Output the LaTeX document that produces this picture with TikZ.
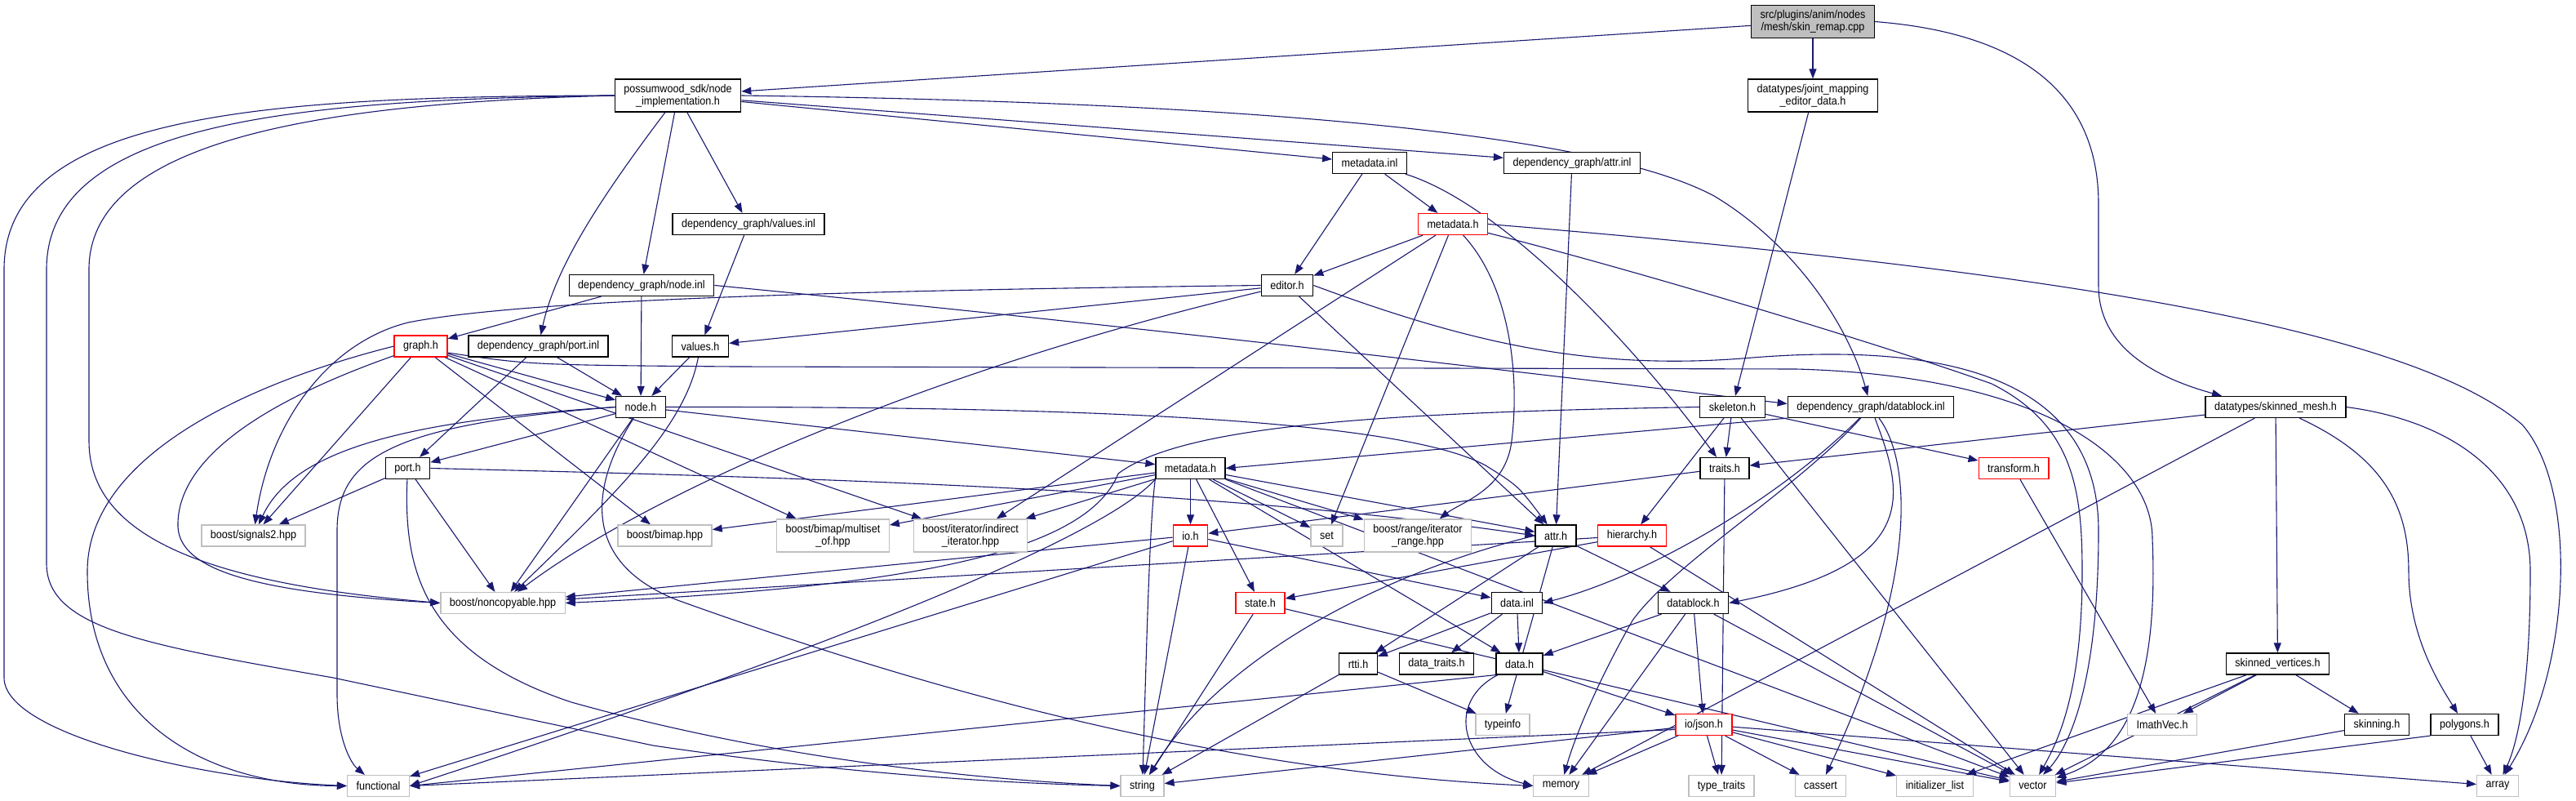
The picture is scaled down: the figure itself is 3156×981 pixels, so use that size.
\documentclass[tikz,border=0pt]{standalone}
\usepackage{fontspec}
\setmainfont{Liberation Sans}[FakeStretch=0.9]
\usetikzlibrary{arrows.meta}
\definecolor{navy}{RGB}{25,25,112}
\definecolor{lgray}{RGB}{191,191,191}
\pgfdeclarelayer{edges}
\pgfsetlayers{edges,main}

\begin{document}
\begin{tikzpicture}[x=1pt,y=-1pt,
  every node/.style={font=\fontsize{14}{15}\selectfont},
  b/.style={draw=black,fill=white,line width=1.3pt,inner xsep=11pt,inner ysep=2pt,minimum height=26pt,align=center},
  tall/.style={minimum height=40pt},
  trunc/.style={b,draw=red},
  ext/.style={b,draw=lgray},
  a/.style={-{Triangle[length=12pt,width=9pt]},draw=navy,line width=1.1pt}]
  \useasboundingbox (0,0) rectangle (3156,981);

  % rows, top to bottom
  \node[b,tall,fill=lgray] (root) at (2221,26.5) {src/plugins/anim/nodes\\/mesh/skin\_remap.cpp};
  \node[b,tall] (nimpl) at (830.5,117) {possumwood\_sdk/node\\\_implementation.h};
  \node[b,tall] (jmap) at (2221,117) {datatypes/joint\_mapping\\\_editor\_data.h};
  \node[b] (metainl) at (1678,199.5) {metadata.inl};
  \node[b] (attrinl) at (1926,199.5) {dependency\_graph/attr.inl};
  \node[b] (valinl) at (917,274.5) {dependency\_graph/values.inl};
  \node[trunc] (metared) at (1780,274.5) {metadata.h};
  \node[b] (nodeinl) at (786,349.5) {dependency\_graph/node.inl};
  \node[b] (editor) at (1577,349.5) {editor.h};
  \node[trunc] (graph) at (515.5,424) {graph.h};
  \node[b] (portinl) at (659.5,424) {dependency\_graph/port.inl};
  \node[b] (valh) at (858,424) {values.h};
  \node[b] (nodeh) at (785,498.5) {node.h};
  \node[b] (skel) at (2122.5,498.5) {skeleton.h};
  \node[b] (dbinl) at (2292,498.5) {dependency\_graph/datablock.inl};
  \node[b] (skmesh) at (2788,498.5) {datatypes/skinned\_mesh.h};
  \node[b] (porth) at (499.5,573.5) {port.h};
  \node[b] (dgmeta) at (1458.5,573.5) {metadata.h};
  \node[b] (traits) at (2113,573.5) {traits.h};
  \node[trunc] (transform) at (2467,573.5) {transform.h};
  \node[ext] (signals) at (310.5,656) {boost/signals2.hpp};
  \node[ext] (bimap) at (814.5,656) {boost/bimap.hpp};
  \node[ext,tall] (multiset) at (1020.5,656) {boost/bimap/multiset\\\_of.hpp};
  \node[ext,tall] (indirect) at (1189,656) {boost/iterator/indirect\\\_iterator.hpp};
  \node[trunc] (ioh) at (1458.5,656) {io.h};
  \node[ext] (set) at (1625.5,656) {set};
  \node[ext,tall] (range) at (1737,656) {boost/range/iterator\\\_range.hpp};
  \node[b] (attrh) at (1906,656) {attr.h};
  \node[trunc] (hier) at (1999.5,656) {hierarchy.h};
  \node[ext] (noncopy) at (616,738.5) {boost/noncopyable.hpp};
  \node[trunc] (state) at (1544,738.5) {state.h};
  \node[b] (datainl) at (1858.5,738.5) {data.inl};
  \node[b] (dbh) at (2074.5,738.5) {datablock.h};
  \node[b] (rtti) at (1664,813) {rtti.h};
  \node[b] (dtraits) at (1760,813) {data\_traits.h};
  \node[b] (datah) at (1861.5,813) {data.h};
  \node[b] (skverts) at (2790.5,813) {skinned\_vertices.h};
  \node[ext] (typeinfo) at (1841,887.5) {typeinfo};
  \node[trunc] (json) at (2087.5,887.5) {io/json.h};
  \node[ext] (imath) at (2649,887.5) {ImathVec.h};
  \node[b] (skinning) at (2912,887.5) {skinning.h};
  \node[b] (polygons) at (3019.5,887.5) {polygons.h};
  \node[ext] (functional) at (463.5,962.5) {functional};
  \node[ext] (string) at (1399.5,962.5) {string};
  \node[ext] (memory) at (1912.5,962.5) {memory};
  \node[ext] (typetraits) at (2109,962.5) {type\_traits};
  \node[ext] (cassert) at (2230.5,962.5) {cassert};
  \node[ext] (initlist) at (2370.5,962.5) {initializer\_list};
  \node[ext] (vector) at (2490.5,962.5) {vector};
  \node[ext] (array) at (3060,962.5) {array};

  \begin{pgfonlayer}{edges}
  \fill[white] (0,0) rectangle (3156,981);
  % straight includes
  \foreach \s/\t in {root/nimpl, root/jmap, nimpl/nodeinl, nimpl/valinl, nimpl/metainl, nimpl/attrinl,
      jmap/skel, valinl/valh, metainl/editor, metainl/metared, attrinl/attrh,
      metared/editor, metared/indirect, metared/set, nodeinl/graph, nodeinl/nodeh,
      editor/valh, editor/attrh, graph/nodeh, graph/signals, graph/bimap, graph/multiset, graph/indirect,
      portinl/porth, portinl/nodeh, valh/nodeh, nodeh/porth, nodeh/noncopy, nodeh/dgmeta,
      porth/signals, porth/noncopy, dgmeta/bimap, dgmeta/multiset, dgmeta/indirect, dgmeta/set,
      dgmeta/range, dgmeta/attrh, dgmeta/ioh, dgmeta/state, dgmeta/datah,
      skel/hier, skel/traits, skel/transform, skel/vector, traits/ioh, traits/typetraits,
      skmesh/traits, skmesh/memory, skmesh/skverts, ioh/noncopy, ioh/functional, ioh/string, ioh/datainl,
      attrh/dbh, attrh/typeinfo, attrh/rtti, hier/noncopy, hier/state, hier/vector,
      state/string, state/vector, datainl/rtti, datainl/dtraits, datainl/datah,
      dbh/datah, dbh/memory, dbh/json, dbh/vector, rtti/string, rtti/typeinfo, datah/json,
      json/string, json/memory, json/typetraits, json/cassert, json/initlist, json/vector, json/array,
      skverts/imath, skverts/skinning, skverts/vector, skverts/initlist,
      transform/imath, skinning/vector, polygons/array}
    \draw[a] (\s) -- (\t);
  \draw[a] (polygons.south west) -- (vector);
  \draw[a] (dbinl.south west) -- (dgmeta.east);
  \draw[a] (datah.south west) -- (functional.east);
  \draw[a] ([yshift=-6pt]json.west) -- (functional.east);
  \draw[a] (dgmeta.south east) -- (vector);
  % routed includes
  \draw[a] (root.east) .. controls (2470,40) and (2571,110) .. (2571,250) -- (2571,350) .. controls (2571,430) and (2650,465) .. ([xshift=-66pt]skmesh.north);
  \draw[a] (nimpl.west) .. controls (320,118) and (5,140) .. (5,330) -- (5,830) .. controls (5,900) and (250,955) .. (functional.west);
  \draw[a] (nimpl.west) .. controls (360,122) and (57,150) .. (57,330) -- (57,690) .. controls (57,770) and (180,790) .. (408,830) -- (800,913) .. controls (1050,950) and (1250,960) .. (string.west);
  \draw[a] (nimpl.west) .. controls (400,126) and (109,170) .. (109,330) -- (109,540) .. controls (109,660) and (260,715) .. (noncopy.west);
  \draw[a] (nimpl) .. controls (730,250) and (680,330) .. (portinl);
  \draw[a] (nimpl.east) .. controls (1500,125) and (1950,160) .. (2100,240) .. controls (2200,300) and (2265,400) .. (dbinl);
  \draw[a] (metainl) .. controls (1840,250) and (2000,420) .. (traits);
  \draw[a] (metared) .. controls (1850,350) and (1862,460) .. (1852,540) .. controls (1845,600) and (1790,615) .. (range);
  \draw[a] (metared) .. controls (2000,330) and (2300,420) .. (2440,470) .. controls (2540,520) and (2551,600) .. (2551,700) .. controls (2551,850) and (2520,910) .. (vector);
  \draw[a] (metared.east) .. controls (2500,330) and (2950,400) .. (3090,520) .. controls (3160,600) and (3150,820) .. (array);
  \draw[a] (nodeinl.east) .. controls (1400,400) and (1900,460) .. ([yshift=4pt]dbinl.west);
  \draw[a] (editor.west) .. controls (1100,355) and (650,365) .. (500,395) .. controls (400,420) and (330,520) .. (signals);
  \draw[a] (editor) .. controls (1150,450) and (800,600) .. (noncopy);
  \draw[a] (editor.east) .. controls (1800,420) and (1950,455) .. (2147,438) .. controls (2400,418) and (2571,470) .. (2571,650) .. controls (2571,850) and (2530,920) .. (vector);
  \draw[a] (valh) .. controls (840,520) and (760,600) .. (noncopy);
  \draw[a] (graph.west) .. controls (300,470) and (107,560) .. (107,700) .. controls (107,880) and (250,962) .. (functional.west);
  \draw[a] (graph) .. controls (300,500) and (220,570) .. (218,640) .. controls (215,695) and (300,725) .. (noncopy.west);
  \draw[a] ([yshift=-8pt]graph.east) .. controls (650,447) .. (900,449) -- (2200,452) .. controls (2500,460) and (2637,560) .. (2637,660) .. controls (2645,850) and (2600,925) .. (vector);
  \draw[a] (nodeh.west) .. controls (500,515) and (360,550) .. (signals);
  \draw[a] (nodeh.west) .. controls (480,520) and (413,560) .. (413,650) -- (413,850) .. controls (413,905) and (430,935) .. (functional);
  \draw[a] (nodeh.east) .. controls (1200,498) and (1700,505) .. (1820,570) .. controls (1860,595) .. (attrh);
  \draw[a] (nodeh) .. controls (720,600) and (715,690) .. (830,735) .. controls (1150,850) and (1500,945) .. (memory.west);
  \draw[a] (porth) .. controls (494,700) and (520,800) .. (700,860) .. controls (950,930) and (1200,955) .. (string.west);
  \draw[a] (porth.east) .. controls (1000,585) and (1500,600) .. (attrh.west);
  \draw[a] (dgmeta.south west) .. controls (1350,660) and (1000,800) .. (functional.east);
  \draw[a] (dgmeta.south west) .. controls (1408,640) and (1404,820) .. (string);
  \draw[a] (attrh.west) .. controls (1700,700) and (1500,800) .. (string);
  \draw[a] (skel.west) .. controls (1700,505) and (1450,520) .. (1370,580) .. controls (1330,680) and (1100,720) .. (noncopy.east);
  \draw[a] (dbinl) .. controls (2330,600) and (2360,690) .. (dbh.east);
  \draw[a] (dbinl) .. controls (2345,570) and (2345,720) .. (cassert);
  \draw[a] (dbinl) .. controls (2200,600) and (2050,690) .. (2000,760) .. controls (1960,830) and (1930,900) .. (memory);
  \draw[a] (dbinl) .. controls (2180,610) and (2020,705) .. (datainl.east);
  \draw[a] (datah) .. controls (1770,860) and (1790,940) .. (memory.west);
  \draw[a] (skmesh) .. controls (2920,560) and (2951,620) .. (2951,700) .. controls (2951,780) and (2990,840) .. (polygons);
  \draw[a] (skmesh.east) .. controls (3000,515) and (3100,580) .. (3100,700) .. controls (3100,860) and (3080,920) .. (array);
  \end{pgfonlayer}
\end{tikzpicture}
\end{document}
